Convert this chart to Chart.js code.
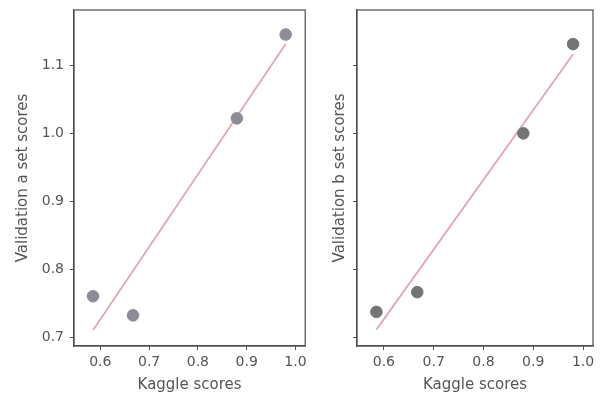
<!DOCTYPE html>
<html>
<head>
<meta charset="utf-8">
<script src="https://cdn.jsdelivr.net/npm/chart.js@4"></script>
<style>
  html, body { margin: 0; padding: 0; background: #fff; }
  #wrap { position: relative; width: 600px; height: 398px; }
  .box { position: absolute; top: 0; height: 398px; }
  #boxA { left: 0; width: 312px; }
  #boxB { left: 312px; width: 288px; }
</style>
</head>
<body>
<div id="wrap">
  <div class="box" id="boxA"><canvas id="chartA"></canvas></div>
  <div class="box" id="boxB"><canvas id="chartB"></canvas></div>
</div>
<script>
// Data
const kaggleScores = [0.585, 0.667, 0.880, 0.980];
const validA = [0.761, 0.733, 1.022, 1.145];
const validB = [0.738, 0.767, 1.000, 1.131];

// fitted lines (end points)
const fitX = [0.585, 0.980];
const fitA = [0.711, 1.131];
const fitB = [0.712, 1.116];

const xTicks = [0.6, 0.7, 0.8, 0.9, 1.0];
const yTicks = [0.7, 0.8, 0.9, 1.0, 1.1];

const textColor = '#555555';
const frameColor = '#4d4d4d';

// draw the top and right spines too
const framePlugin = {
    id: 'frame',
    afterDraw(chart) {
        const a = chart.chartArea;
        const c = chart.ctx;
        c.save();
        c.strokeStyle = frameColor;
        c.lineWidth = 1.2;
        c.strokeRect(a.left, a.top, a.right - a.left, a.bottom - a.top);
        c.restore();
    }
};

function makeChart(canvasId, yVals, fitVals, yLabel, yAxisWidth, padLeft, showYLabels, padRight, pointColor) {
    const ctx = document.getElementById(canvasId).getContext('2d');
    return new Chart(ctx, {
        type: 'scatter',
        data: {
            datasets: [
                {
                    data: kaggleScores.map((x, i) => ({ x: x, y: yVals[i] })),
                    backgroundColor: pointColor,
                    borderColor: pointColor,
                    pointRadius: 5.8,
                    order: 1
                },
                {
                    type: 'line',
                    data: fitX.map((x, i) => ({ x: x, y: fitVals[i] })),
                    borderColor: '#e3a7af',
                    borderWidth: 1.8,
                    pointRadius: 0,
                    fill: false,
                    order: 2
                }
            ]
        },
        options: {
            responsive: true,
            maintainAspectRatio: false,
            animation: false,
            layout: { padding: { top: 10, right: padRight, left: padLeft, bottom: 0 } },
            plugins: {
                legend: { display: false },
                tooltip: { enabled: false }
            },
            scales: {
                x: {
                    type: 'linear',
                    min: 0.546,
                    max: 1.02,
                    afterBuildTicks: s => { s.ticks = xTicks.map(v => ({ value: v })); },
                    afterFit: s => { s.height = 52; s.paddingLeft = 0; s.paddingRight = 0; },
                    border: { color: frameColor, width: 1.2 },
                    grid: { drawOnChartArea: false, drawTicks: true, tickLength: 4, tickColor: frameColor },
                    ticks: {
                        color: textColor,
                        font: { family: 'DejaVu Sans', size: 14 },
                        padding: 4,
                        maxRotation: 0,
                        callback: v => v.toFixed(1)
                    },
                    title: {
                        display: true,
                        text: 'Kaggle scores',
                        color: textColor,
                        font: { family: 'DejaVu Sans', size: 15 },
                        padding: { top: 0 }
                    }
                },
                y: {
                    type: 'linear',
                    min: 0.688,
                    max: 1.181,
                    afterBuildTicks: s => { s.ticks = yTicks.map(v => ({ value: v })); },
                    afterFit: s => { s.width = yAxisWidth; s.paddingTop = 0; s.paddingBottom = 0; },
                    border: { color: frameColor, width: 1.2 },
                    grid: { drawOnChartArea: false, drawTicks: true, tickLength: 4, tickColor: frameColor },
                    ticks: {
                        color: showYLabels ? textColor : 'rgba(0,0,0,0)',
                        font: { family: 'DejaVu Sans', size: 14 },
                        padding: 6,
                        callback: v => v.toFixed(1)
                    },
                    title: {
                        display: true,
                        text: yLabel,
                        color: textColor,
                        font: { family: 'DejaVu Sans', size: 15 },
                        padding: { top: 0, bottom: 0 }
                    }
                }
            }
        },
        plugins: [framePlugin]
    });
}

makeChart('chartA', validA, fitA, 'Validation a set scores', 60, 14, true, 2, '#8c8c98');
makeChart('chartB', validB, fitB, 'Validation b set scores', 26, 19, false, 7, '#747474');
</script>
</body>
</html>
